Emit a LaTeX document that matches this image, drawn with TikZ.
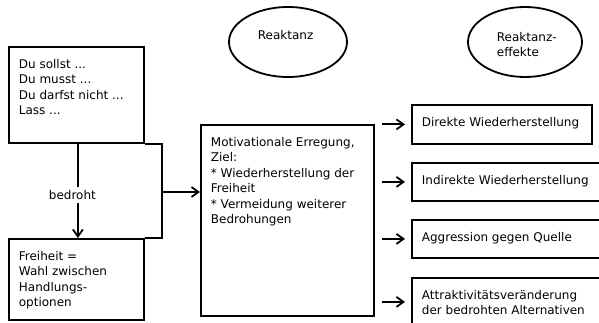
\documentclass[tikz,border=0pt]{standalone}
\usepackage{fontspec}
\setmainfont{DejaVu Sans}
\usetikzlibrary{arrows.meta,positioning,shapes.geometric}

\begin{document}
\begin{tikzpicture}[x=1pt, y=-1pt, line width=1.8pt, every node/.style={font=\fontsize{12}{15.4}\selectfont}, >={Straight Barb[length=7pt, width=10pt]}, box/.style={draw, rectangle, anchor=north west, inner sep=0pt}, oval/.style={draw, ellipse, inner sep=0pt}, txt/.style={align=left, inner sep=0pt}]
	\clip (0,0) rectangle (599,323);
	% Ueberschriften
	\node[oval, minimum width=118pt, minimum height=70pt] (reaktanz) at (288,42) {};
	\node[txt, anchor=north west] (reaktanzt) at (257,29.6) {Reaktanz};
	\node[oval, minimum width=114pt, minimum height=70pt] (effekte) at (525,42) {};
	\node[txt, anchor=north west] (effektet) at (496,31.3) {Reaktanz-\\effekte};
	% linke Spalte
	\node[box, minimum width=135pt, minimum height=96pt] (soll) at (8,46) {};
	\node[txt, below right=12.5pt and 10pt of soll.north west] (sollt) {Du sollst ...\\Du musst ...\\Du darfst nicht ...\\Lass ...};
	\node[box, minimum width=135pt, minimum height=81pt] (frei) at (8,238) {};
	\node[txt, below right=12.5pt and 10pt of frei.north west] (freit) {Freiheit =\\Wahl zwischen\\Handlungs-\\optionen};
	\coordinate (klammer) at (162,192);
	\draw (soll.south east) -| (klammer) |- (frei.north east);
	\draw[->] ([xshift=1.5pt]soll.south) -- node[pos=0.545, xshift=-5.5pt, fill=white, inner sep=3pt] (bedroht) {bedroht} ([xshift=1.5pt]frei.north);
	% Mitte
	\node[box, minimum width=173pt, minimum height=191pt] (mot) at (200,124) {};
	\node[txt, below right=12.5pt and 10pt of mot.north west] (mott) {Motivationale Erregung,\\Ziel:\\* Wiederherstellung der\\Freiheit\\* Vermeidung weiterer\\Bedrohungen};
	\draw[->] (klammer) -- (klammer -| mot.west);
	% Reaktanzeffekte
	\foreach \n/\y/\w/\h/\t in {1/104/180/39/{Direkte Wiederherstellung}, 2/162/200/38/{Indirekte Wiederherstellung}, 3/219/200/38/{Aggression gegen Quelle}, 4/277/200/48/{Attraktivitätsveränderung\\der bedrohten Alternativen}} {
		\node[box, minimum width=\w pt, minimum height=\h pt] (eff\n) at (411,\y) {};
		\node[txt, below right=12.5pt and 10pt of eff\n.north west] (efft\n) {\t};
		\draw[->, shorten <=7pt, shorten >=6pt] (mot.east |- eff\n.west) -- (eff\n.west);
	}
\end{tikzpicture}
\end{document}
